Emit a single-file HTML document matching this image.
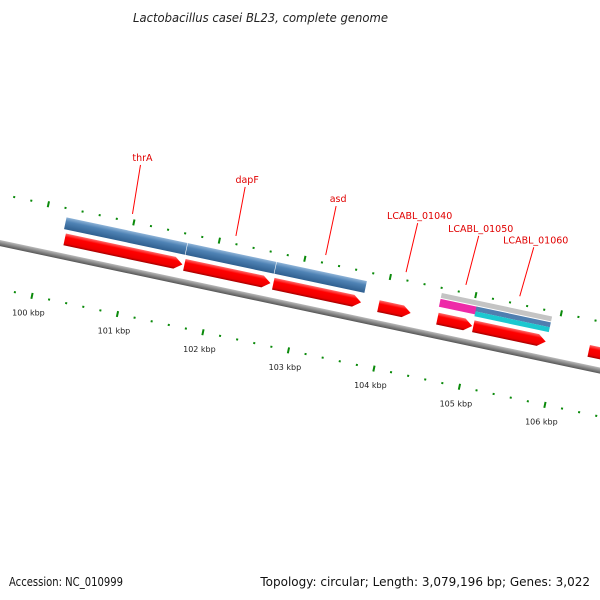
<!DOCTYPE html>
<html><head><meta charset="utf-8"><style>
html,body{margin:0;padding:0;background:#fff;}
svg{display:block;font-family:"DejaVu Sans","Liberation Sans",sans-serif;}
</style></head><body>
<svg id="map" width="600" height="600" viewBox="0 0 600 600">
<defs>
<linearGradient id="gRed" x1="0" y1="0" x2="0" y2="1">
<stop offset="0" stop-color="#ff6a6a"/><stop offset="0.3" stop-color="#ff0000"/><stop offset="0.8" stop-color="#ee0000"/><stop offset="1" stop-color="#a00000"/></linearGradient>
<linearGradient id="gBlue" x1="0" y1="0" x2="0" y2="1">
<stop offset="0" stop-color="#8fb4d8"/><stop offset="0.35" stop-color="#4f83b5"/><stop offset="1" stop-color="#2f5f8f"/></linearGradient>
<linearGradient id="gBack" x1="0" y1="0" x2="0" y2="1">
<stop offset="0" stop-color="#bbbbbb"/><stop offset="0.5" stop-color="#888888"/><stop offset="1" stop-color="#555555"/></linearGradient>
</defs>
<text x="133" y="22" textLength="255" lengthAdjust="spacingAndGlyphs" font-size="12" font-style="italic" fill="#222">Lactobacillus casei BL23, complete genome</text>
<g id="band" transform="translate(0,240) rotate(12)">
<rect x="-20" y="0" width="680" height="6" fill="url(#gBack)"/>
</g>
<g id="labels"></g>
<text x="9" y="586" textLength="114" lengthAdjust="spacingAndGlyphs" font-size="12" fill="#111">Accession: NC_010999</text>
<text x="590" y="586" text-anchor="end" font-size="12" fill="#111">Topology: circular; Length: 3,079,196 bp; Genes: 3,022</text>
</svg>
<script>
// data (kbp)
const geneStarts = [100.22, 101.62, 102.66, 103.89, 104.58, 105.00, 106.35];
const geneEnds   = [101.62, 102.65, 103.71, 104.29, 105.01, 105.87, 107.50];
const cdsStarts = [100.20, 101.62, 102.66];
const cdsEnds   = [101.62, 102.66, 103.72];
const cdsNames  = ['thrA','dapF','asd'];
const otherFeatStart = [104.58, 104.58, 105.00, 105.00];
const otherFeatEnd   = [105.87, 105.01, 105.87, 105.87];
const otherFeatKind  = ['gene','misc','cds','repeat'];
const labelNames = ['thrA','dapF','asd','LCABL_01040','LCABL_01050','LCABL_01060'];
const labelPos   = [100.93, 102.14, 103.19, 104.13, 104.83, 105.46];
const tickStart = 99.4, tickEnd = 107.2, tickStep = 0.2;
const majorTicks = [100,101,102,103,104,105,106,107];

const NS='http://www.w3.org/2000/svg';
const U0=42.9, PX=87.4, TH=12*Math.PI/180, CS=Math.cos(TH), SN=Math.sin(TH);
function u(k){return U0+(k-100)*PX;}
function toXY(uu,v){return [uu*CS - v*SN, 240 + uu*SN + v*CS];}
const band=document.getElementById('band');
const labG=document.getElementById('labels');
function mk(tag,attrs,parent){const e=document.createElementNS(NS,tag);for(const k in attrs)e.setAttribute(k,attrs[k]);parent.appendChild(e);return e;}

// ticks
for(let k=tickStart;k<=tickEnd+1e-6;k+=tickStep){
  const kk=Math.round(k*10)/10;
  const major=majorTicks.some(m=>Math.abs(m-kk)<1e-6);
  const x=u(kk);
  const h=major?6:2;
  const t1=mk('rect',{x:x-3-1,y:-45-h/2,width:2,height:h,fill:'#0a8a0a'},band);
  
  
  const t2=mk('rect',{x:x-1,y:48-h/2,width:2,height:h,fill:'#0a8a0a'},band);
  
  
  if(major){
    const p=toXY(x,65);
    const tl=mk('text',{x:p[0],y:p[1]+3,'text-anchor':'middle','font-size':'8',fill:'#222'},labG);
    tl.textContent=kk+' kbp';
    
    
  }
}
// genes (red arrows)
for(let i=0;i<geneStarts.length;i++){
  const a=u(geneStarts[i])+1, b=u(geneEnds[i])-1, hd=Math.min(8,(b-a)/2);
  const g=mk('polygon',{points:`${a},-20 ${b-hd},-20 ${b},-14 ${b-hd},-8 ${a},-8`,fill:'url(#gRed)'},band);
  
  
}
// CDS (blue)
for(let i=0;i<cdsStarts.length;i++){
  const a=u(cdsStarts[i]), b=u(cdsEnds[i]);
  const r=mk('rect',{x:a,y:-36,width:b-a-0.6,height:12,fill:'url(#gBlue)'},band);
  
  
}
// other features
const kindStyle={gene:[-40,5,'#c4c4c4'],misc:[-34,8,'#ee2aa8'],cds:[-34,5,'#4f7fb0'],repeat:[-29,5,'#1cc8d0']};
for(let i=0;i<otherFeatStart.length;i++){
  const s=kindStyle[otherFeatKind[i]];
  const a=u(otherFeatStart[i]), b=u(otherFeatEnd[i]);
  const r=mk('rect',{x:a,y:s[0],width:b-a,height:s[1],fill:s[2]},band);
  
  
}
// gene labels with leader lines
for(let i=0;i<labelNames.length;i++){
  const x=u(labelPos[i]);
  const p0=toXY(x,-53);
  const p1=[p0[0]+8+i*1.2, p0[1]-49];
  const l=mk('line',{x1:p0[0],y1:p0[1],x2:p1[0],y2:p1[1],stroke:'#ff0000','stroke-width':'1'},labG);
  
  
  const t=mk('text',{x:p1[0]+2,y:p1[1]-4,'text-anchor':'middle','font-size':'9.5',fill:'#e00000'},labG);
  t.textContent=labelNames[i];
  
  
}
</script>
</body></html>
